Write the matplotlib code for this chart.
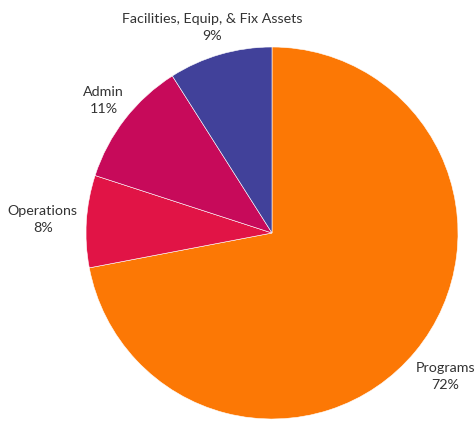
import matplotlib
matplotlib.use("Agg")
import matplotlib.pyplot as plt

labels = ["Programs", "Operations", "Admin", "Facilities, Equip, & Fix Assets"]
values = [72, 8, 11, 9]
colors = ["#FC7805", "#E11446", "#C70A5A", "#41419A"]

plt.rcParams['font.family'] = ['Lato', 'DejaVu Sans']

fig = plt.figure(figsize=(4.74, 4.22), dpi=100)
W, H = 474, 422
cx, cy, R = 272, 233, 186
ax = fig.add_axes([(cx - R) / W, (H - cy - R) / H, 2 * R / W, 2 * R / H])

wedges, texts = ax.pie(values, colors=colors, startangle=90, counterclock=False,
                       radius=1, labels=[f"{l}\n{v}%" for l, v in zip(labels, values)],
                       labeldistance=1.16,
                       wedgeprops=dict(linewidth=0.4, edgecolor="white"),
                       textprops=dict(fontsize=10.3, color="#333333", ha="center", va="center",
                                      linespacing=1.5))
# small label nudges (in axes data units) to match layout
nudges = [(0.04, -0.03), (-0.075, 0.0), (0.01, 0.0), (0.0, -0.01)]
for t, (dx, dy) in zip(texts, nudges):
    x, y = t.get_position()
    t.set_position((x + dx, y + dy))
    t.set_horizontalalignment("center")
    t.set_clip_on(False)
ax.set_xlim(-1, 1)
ax.set_ylim(-1, 1)
ax.set_aspect("equal")
ax.axis("off")
fig.savefig("out.png", dpi=100)
